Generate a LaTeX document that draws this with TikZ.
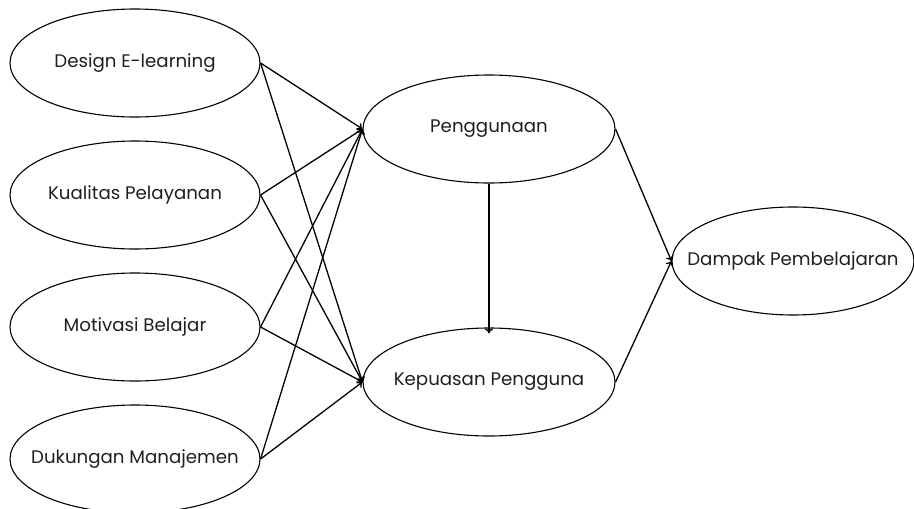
\documentclass[tikz,border=0pt]{standalone}
\usepackage{fontspec}
\setmainfont{Poppins}
\usetikzlibrary{shapes.geometric,arrows.meta}
\begin{document}
\begin{tikzpicture}[x=1pt,y=-1pt,
  var/.style={draw,ellipse,line width=1.1pt,minimum width=250pt,minimum height=108pt,
    inner xsep=-60pt,inner ysep=0pt,text=black!88,font=\fontsize{18.2}{21}\selectfont},
  path/.style={line width=1.3pt,-{To[length=5pt,width=8pt]}}]
  \pgfmathsetmacro{\lx}{135}
  \pgfmathsetmacro{\mx}{489}
  \useasboundingbox (0,0) rectangle (914,509);

  \node[var] (design) at (\lx, 63) {Design E-learning};
  \node[var] (kualitas) at (\lx, 195) {Kualitas Pelayanan};
  \node[var] (motivasi) at (\lx, 327) {Motivasi Belajar};
  \node[var] (dukungan) at (\lx, 459) {Dukungan Manajemen};

  \node[var,minimum width=252pt] (guna) at (\mx, 129) {Penggunaan};
  \node[var,minimum width=252pt] (puas) at (\mx, 382) {Kepuasan Pengguna};
  \node[var,minimum width=242pt] (dampak) at (793, 261) {Dampak Pembelajaran};

  \foreach \src in {design,kualitas,motivasi,dukungan} {
    \draw[path] (\src.east) -- (guna.west);
    \draw[path] (\src.east) -- (puas.west);
  }
  \draw[path] (guna.south) -- ([yshift=-6pt]puas.north);
  \draw[path] (guna.east) -- (dampak.west);
  \draw[path] (puas.east) -- (dampak.west);
\end{tikzpicture}
\end{document}
